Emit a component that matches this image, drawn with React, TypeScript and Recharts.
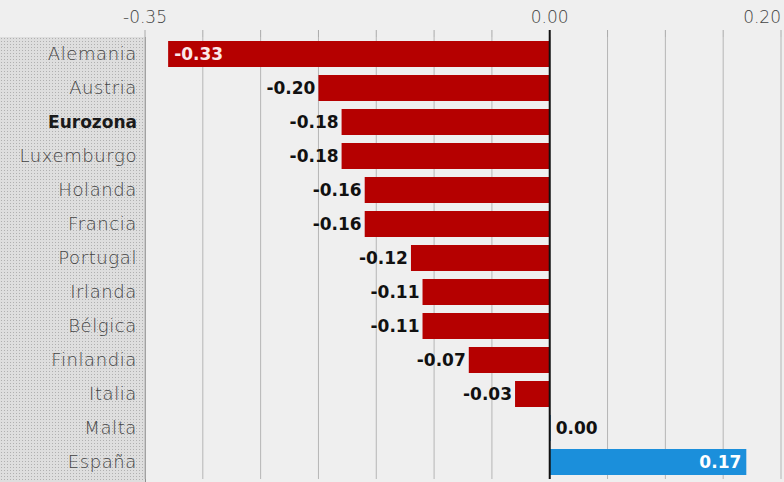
import { BarChart, Bar, XAxis, YAxis, CartesianGrid, ReferenceLine, Cell, LabelList } from "recharts";

const countries = [
  "Alemania",
  "Austria",
  "Eurozona",
  "Luxemburgo",
  "Holanda",
  "Francia",
  "Portugal",
  "Irlanda",
  "Bélgica",
  "Finlandia",
  "Italia",
  "Malta",
  "España",
];
const values = [-0.33, -0.2, -0.18, -0.18, -0.16, -0.16, -0.12, -0.11, -0.11, -0.07, -0.03, 0.0, 0.17];
const gridTicks = [-0.35, -0.3, -0.25, -0.2, -0.15, -0.1, -0.05, 0, 0.05, 0.1, 0.15, 0.2];
const labeledTicks = [-0.35, 0, 0.2];

const data = countries.map((name, i) => ({ name, value: values[i] }));

const FONT = "'DejaVu Sans', sans-serif";

// tick marks + labels drawn above the plot top
const AxisTick = ({ x, y, payload }: any) => {
  const v = payload.value;
  const zero = Math.abs(v) < 1e-9;
  const labeled = labeledTicks.some((t) => Math.abs(t - v) < 1e-9);
  return (
    <g>
      <line x1={x} x2={x} y1={y - 7} y2={y} stroke={zero ? "#111" : "#aaa"} strokeWidth={zero ? 2 : 1} />
      {labeled && (
        <text
          x={x}
          y={y - 14}
          textAnchor={v >= 0.2 ? "end" : "middle"}
          fill="#444"
          fontSize={17}
          fontWeight={200}
          fontFamily={FONT}
        >
          {v.toFixed(2)}
        </text>
      )}
    </g>
  );
};

const CountryTick = ({ x, y, payload }: any) => {
  const bold = payload.value === "Eurozona";
  return (
    <text
      x={x}
      y={y}
      dy={6}
      textAnchor="end"
      fill={bold ? "#1a1a1a" : "#444"}
      fontWeight={bold ? 700 : 200}
      fontSize={bold ? 17 : 18}
      letterSpacing={bold ? 0 : 0.6}
      fontFamily={FONT}
    >
      {payload.value}
    </text>
  );
};

const ValueLabel = ({ x, y, width, height, value }: any) => {
  const cy = y + height / 2 + 6;
  const txt = value.toFixed(2);
  const common = { fontWeight: 700, fontSize: 17, fontFamily: FONT };
  if (value < -0.3) {
    return (
      <text x={x + width + 6} y={cy} fill="#fbe9ea" {...common}>
        {txt}
      </text>
    );
  }
  if (value < 0) {
    return (
      <text x={x + width - 3} y={cy} textAnchor="end" fill="#111" {...common}>
        {txt}
      </text>
    );
  }
  if (value > 0) {
    return (
      <text x={x + width - 5} y={cy} textAnchor="end" fill="#fff" {...common}>
        {txt}
      </text>
    );
  }
  return (
    <text x={x + 6} y={cy} fill="#111" {...common}>
      {txt}
    </text>
  );
};

export default function App() {
  return (
    <div style={{ position: "absolute", left: 0, top: 0, width: 784, height: 482, background: "#efefef" }}>
      <div
        style={{
          position: "absolute",
          left: 0,
          top: 37,
          width: 146,
          height: 445,
          backgroundColor: "#dedede",
          backgroundImage: "radial-gradient(#b0b0b0 0.7px, transparent 0.9px)",
          backgroundSize: "3px 3px",
          borderRight: "1px solid #8f8f8f",
          boxSizing: "border-box",
        }}
      />
      <div style={{ position: "absolute", left: 0, top: 0 }}>
        <BarChart
          width={784}
          height={482}
          data={data}
          layout="vertical"
          margin={{ top: 7, right: 3, bottom: 3, left: 0 }}
          barCategoryGap={8}
        >
          <CartesianGrid horizontal={false} stroke="#b5b5b5" />
          <XAxis
            type="number"
            orientation="top"
            domain={[-0.35, 0.2]}
            ticks={gridTicks}
            interval={0}
            height={30}
            axisLine={false}
            tickLine={false}
            tickSize={0}
            tickMargin={0}
            tick={<AxisTick />}
          />
          <YAxis
            type="category"
            dataKey="name"
            width={145}
            axisLine={false}
            tickLine={false}
            tickSize={0}
            tickMargin={8}
            tick={<CountryTick />}
          />
          <Bar dataKey="value" isAnimationActive={false} barSize={26} minPointSize={1}>
            {data.map((d) => (
              <Cell key={d.name} fill={d.value < 0 ? "#b50000" : "#1b8fdb"} />
            ))}
            <LabelList dataKey="value" content={<ValueLabel />} />
          </Bar>
          <ReferenceLine x={0} stroke="#111" strokeWidth={2} />
        </BarChart>
      </div>
    </div>
  );
}
